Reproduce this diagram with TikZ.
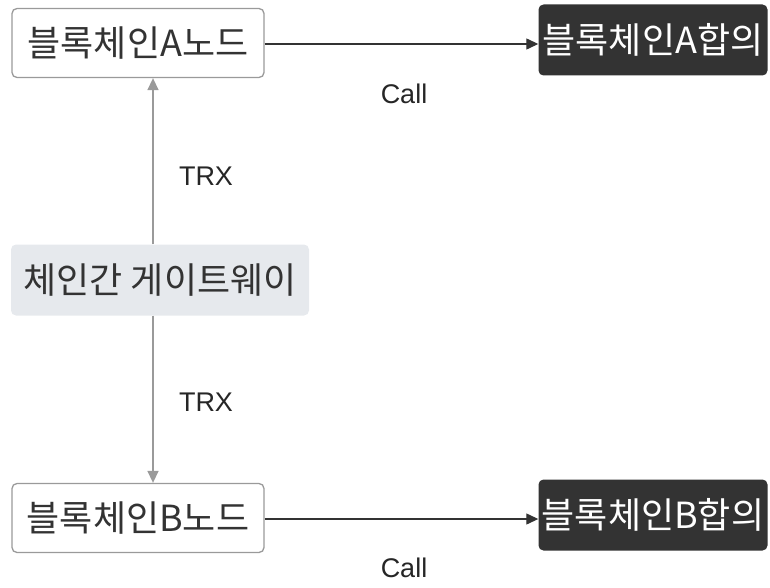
\documentclass[tikz,border=0pt]{standalone}
\usepackage{fontspec}
\setmainfont{Noto Sans CJK KR}
\newfontfamily\labelfont{Liberation Sans}
\usetikzlibrary{arrows.meta, positioning}
\usepackage{xcolor}
\definecolor{darkbox}{HTML}{333333}
\definecolor{gatefill}{HTML}{E6E9ED}
\definecolor{edgegray}{HTML}{9A9A9A}

\begin{document}
\begin{tikzpicture}[x=1pt,y=-1pt,font=\fontsize{36}{40}\selectfont]
    \tikzstyle{box}=[rounded corners=5pt, minimum height=69pt, inner sep=0pt, text=black!80]
    \tikzstyle{node box}=[box, draw=edgegray, line width=1.3pt, fill=white, minimum width=252pt]
    \tikzstyle{consensus box}=[box, fill=darkbox, text=white, minimum width=229pt, minimum height=71pt]
    \tikzstyle{gateway box}=[box, fill=gatefill, minimum width=298pt, minimum height=71pt]
    \tikzstyle{call}=[->, >={Triangle[length=12pt,width=11pt]}, draw=darkbox, line width=1.3pt]
    \tikzstyle{trx}=[->, >={Triangle[length=12pt,width=11pt]}, draw=edgegray, line width=1.5pt]
    \tikzstyle{annot}=[font=\labelfont\fontsize{27}{30}\selectfont, text=black!85]

    \useasboundingbox (0,0) rectangle (770,588);

    % blockchain nodes and their consensus
    \node[node box] (NA) at (138,43) {블록체인A노드};
    \node[consensus box] (CA) at (653,40) {블록체인A합의};
    \node[gateway box] (GW) at (160,280) {체인간 게이트웨이};
    \node[node box] (NB) at (138,518) {블록체인B노드};
    \node[consensus box] (CB) at (653,515) {블록체인B합의};

    % connections
    \draw[call] (NA.east |- 0,44) -- (CA.west |- 0,44);
    \draw[call] (NB.east |- 0,519) -- (CB.west |- 0,519);
    \draw[trx] (GW.north -| 153,0) -- (NA.south -| 153,0);
    \draw[trx] (GW.south -| 153,0) -- (NB.north -| 153,0);

    \node[annot] (call-A) at (404,94) {Call};
    \node[annot] (call-B) at (404,568) {Call};
    \node[annot] (trx-A) at (206,176) {TRX};
    \node[annot] (trx-B) at (206,402) {TRX};
\end{tikzpicture}
\end{document}
